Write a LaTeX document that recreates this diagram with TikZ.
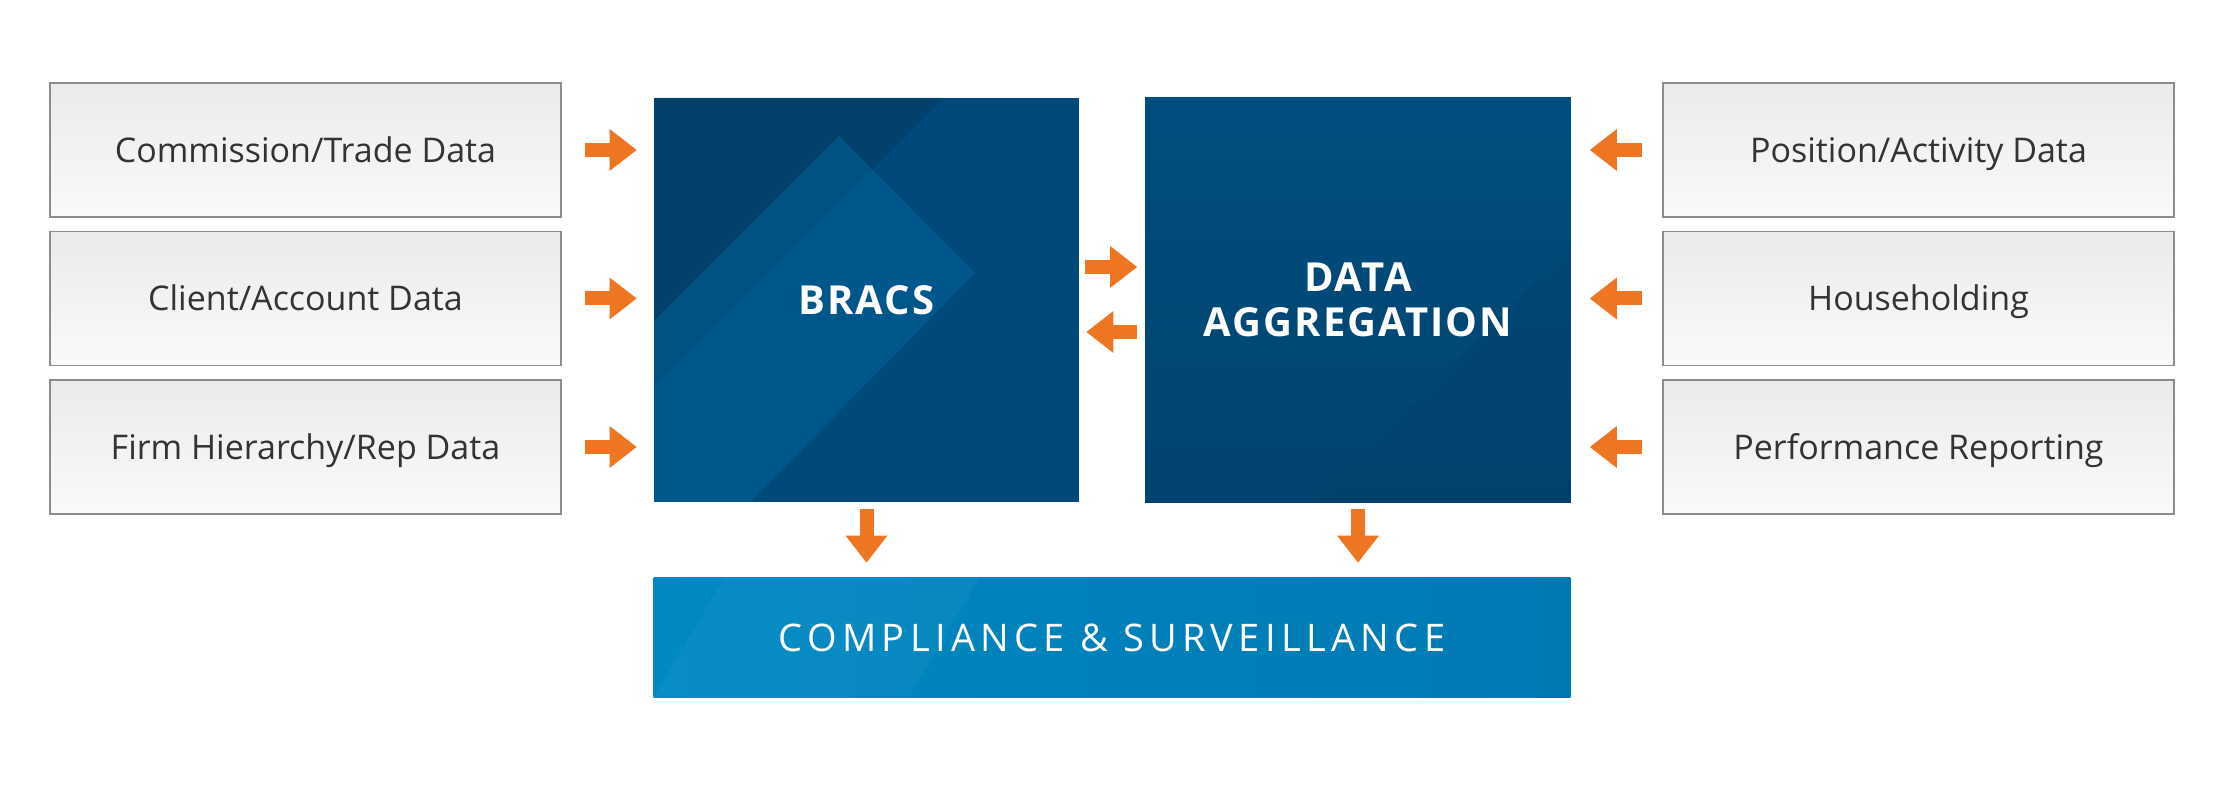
\documentclass[tikz,border=0pt]{standalone}
\usepackage{fontspec}
\setmainfont{Open Sans}
\usepackage{xcolor}
\usetikzlibrary{positioning, arrows.meta, backgrounds}

\definecolor{flowOrange}{HTML}{EE7623}
\definecolor{navy}{HTML}{004A7B}
\definecolor{navyTop}{HTML}{004E80}
\definecolor{navyBottom}{HTML}{00446F}
\definecolor{navyDark}{HTML}{033B62}
\definecolor{navyLight}{HTML}{00659B}
\definecolor{skyLeft}{HTML}{0089C3}
\definecolor{skyRight}{HTML}{0079B3}
\definecolor{boxLine}{HTML}{8C8C8C}
\definecolor{boxText}{HTML}{333333}

\tikzset{
  source/.style={draw=boxLine, line width=0.75pt, inner sep=0pt,
    minimum width=255.5pt, minimum height=67pt,
    top color=gray!16, bottom color=gray!4,
    text=boxText, font=\fontsize{17pt}{20pt}\selectfont,
    text height=12.2pt, text depth=0pt},
  core/.style={inner sep=0pt, minimum width=212.5pt, minimum height=202pt,
    text=white, align=center,
    font=\bfseries\fontsize{20pt}{22.5pt}\selectfont\addfontfeatures{LetterSpace=5}},
  output/.style={inner sep=0pt, minimum width=458pt, minimum height=59.5pt,
    text=white, text height=13.6pt, text depth=0pt,
    font=\fontsize{19pt}{22pt}\selectfont\addfontfeatures{LetterSpace=14}},
  flow/.style={draw=flowOrange, line width=7pt,
    -{Triangle[length=13.5pt, width=21pt, line width=0pt]}},
}

\begin{document}
\begin{tikzpicture}[x=0.5pt, y=-0.5pt]
        \useasboundingbox (0,0) rectangle (2240,785);

        % data sources
        \node[source] (commission) at (305.5,150) {Commission/Trade Data};
        \node[source] (client) at (305.5,298.5) {Client/Account Data};
        \node[source] (firm) at (305.5,447) {Firm Hierarchy/Rep Data};
        \node[source] (position) at (1918.5,150) {Position/Activity Data};
        \node[source] (household) at (1918.5,298.5) {Householding};
        \node[source] (performance) at (1918.5,447) {Performance Reporting};

        % core systems
        \node[core] (bracs) at (866.5,300) {BRACS};
        \node[core] (da) at (1358,300) {DATA\\AGGREGATION};
        \node[output] (comp) at (1112,637.5) {COMPLIANCE \& SURVEILLANCE};

        % panel backgrounds
        \begin{scope}[on background layer]
          \fill[navy] (bracs.north west) rectangle (bracs.south east);
          \begin{scope}
            \clip (bracs.north west) rectangle (bracs.south east);
            \fill[navyDark, opacity=0.6] (654,98) -- (943,98) -- (654,387) -- cycle;
            \fill[navyLight, opacity=0.5] (839,136) -- (975,273) -- (750,502) -- (654,502) -- (654,321) -- cycle;
          \end{scope}
          \shade[top color=navyTop, bottom color=navyBottom] (da.north west) rectangle (da.south east);
          \begin{scope}
            \clip (da.north west) rectangle (da.south east);
            \fill[navyDark, opacity=0.2] (1570,248) -- (1570,502) -- (1316,502) -- cycle;
          \end{scope}
          \shade[left color=skyLeft, right color=skyRight] (comp.north west) rectangle (comp.south east);
          \begin{scope}
            \clip (comp.north west) rectangle (comp.south east);
            \fill[white, opacity=0.035] (724,578) -- (979,578) -- (909,697) -- (654,697) -- cycle;
          \end{scope}
        \end{scope}

        % inputs
        \draw[flow, shorten <=11.5pt, shorten >=8.5pt] (commission.east) -- (commission.east -| bracs.west);
        \draw[flow, shorten <=11.5pt, shorten >=8.5pt] (client.east) -- (client.east -| bracs.west);
        \draw[flow, shorten <=11.5pt, shorten >=8.5pt] (firm.east) -- (firm.east -| bracs.west);
        \draw[flow, shorten <=10pt, shorten >=9.5pt] (position.west) -- (position.west -| da.east);
        \draw[flow, shorten <=10pt, shorten >=9.5pt] (household.west) -- (household.west -| da.east);
        \draw[flow, shorten <=10pt, shorten >=9.5pt] (performance.west) -- (performance.west -| da.east);

        % exchange and output
        \draw[flow, shorten <=3pt, shorten >=4pt] ([yshift=16.5pt]bracs.east) -- ([yshift=16.5pt]da.west);
        \draw[flow, shorten <=4pt, shorten >=3.5pt] ([yshift=-16pt]da.west) -- ([yshift=-16pt]bracs.east);
        \draw[flow, shorten <=3.5pt, shorten >=7.5pt] (bracs.south) -- (bracs.south |- comp.north);
        \draw[flow, shorten <=3.5pt, shorten >=7.5pt] (da.south) -- (da.south |- comp.north);
    \end{tikzpicture}
\end{document}
